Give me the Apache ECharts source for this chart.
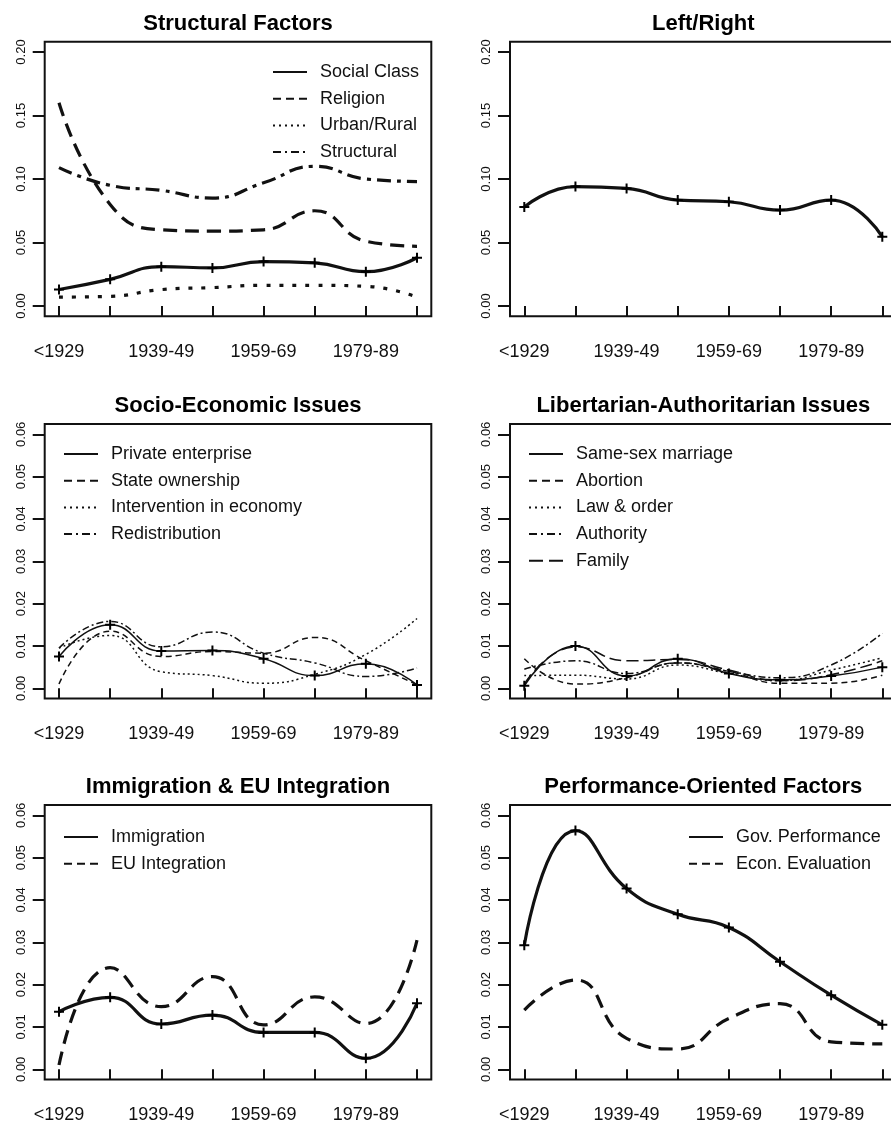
<!DOCTYPE html>
<html><head><meta charset="utf-8">
<script src="https://cdn.jsdelivr.net/npm/echarts@6/dist/echarts.min.js"></script>
<style>html,body{margin:0;padding:0;overflow:hidden;background:#fff}#c{width:891px;height:1124px}</style>
</head><body><div id="c"></div><script>
// ---------- DATA ----------
const categories = ['<1929','1929-39','1939-49','1949-59','1959-69','1969-79','1979-89','>1989'];
const yTicksWide = [0, 0.05, 0.10, 0.15, 0.20];
const yTicksNarrow = [0, 0.01, 0.02, 0.03, 0.04, 0.05, 0.06];

// Structural Factors
const socialClass = [0.013, 0.021, 0.031, 0.030, 0.035, 0.034, 0.027, 0.038];
const religion    = [0.160, 0.080, 0.060, 0.059, 0.060, 0.075, 0.051, 0.047];
const urbanRural  = [0.007, 0.0076, 0.0129, 0.0145, 0.0163, 0.0163, 0.0155, 0.007];
const structural  = [0.109, 0.095, 0.091, 0.085, 0.097, 0.110, 0.100, 0.098];
// Left/Right
const leftRight   = [0.078, 0.094, 0.0926, 0.0834, 0.0821, 0.0755, 0.0834, 0.0545];
// Socio-Economic Issues
const privateEnterprise = [0.0075, 0.0150, 0.0088, 0.0089, 0.0070, 0.0030, 0.0058, 0.0008];
const stateOwnership    = [0.0010, 0.0135, 0.0075, 0.0087, 0.0083, 0.0120, 0.0065, 0.0008];
const intervention      = [0.0095, 0.0125, 0.0039, 0.0030, 0.0012, 0.0033, 0.0080, 0.0165];
const redistribution    = [0.0095, 0.0158, 0.0098, 0.0133, 0.0083, 0.0060, 0.0028, 0.0048];
// Libertarian-Authoritarian Issues
const sameSexMarriage = [0.0006, 0.0100, 0.0029, 0.0070, 0.0035, 0.0020, 0.0029, 0.0050];
const abortion        = [0.0070, 0.0010, 0.0025, 0.0060, 0.0040, 0.0012, 0.0012, 0.0031];
const lawOrder        = [0.0030, 0.0031, 0.0022, 0.0055, 0.0035, 0.0018, 0.0043, 0.0072];
const authority       = [0.0045, 0.0065, 0.0035, 0.0060, 0.0040, 0.0025, 0.0055, 0.0130];
const family          = [0.0010, 0.0098, 0.0065, 0.0068, 0.0043, 0.0018, 0.0032, 0.0065];
// Immigration & EU Integration
const immigration   = [0.0136, 0.0170, 0.0107, 0.0128, 0.0087, 0.0087, 0.0026, 0.0156];
const euIntegration = [0.0010, 0.0240, 0.0148, 0.0219, 0.0105, 0.0171, 0.0108, 0.0305];
// Performance-Oriented Factors
const govPerformance = [0.0293, 0.0564, 0.0427, 0.0366, 0.0335, 0.0254, 0.0175, 0.0105];
const econEvaluation = [0.0140, 0.0211, 0.0073, 0.0048, 0.0120, 0.0155, 0.0065, 0.0060];

// ---------- LAYOUT / STYLE ----------
const FONT = 'Liberation Sans, Arial, sans-serif';
const INK = '#111';
const PLUS = 'path://M4,0H6V4H10V6H6V10H4V6H0V4H4Z';
const COLS = [{x0: 59, x7: 417}, {x0: 524.3, x7: 882.3}];
const ROWS = [{y0: 306}, {y0: 688.3}, {y0: 1069.3}];
const PH = 254, PADX = 14.3, PADY = 10.2;
const DASH = {
  thick:  {solid: 'solid', dashed: [14, 8], dotted: [4, 9], dotdash: [14, 6, 4, 6], longdash: [20, 8]},
  thin:   {solid: 'solid', dashed: [6, 4], dotted: [2, 3], dotdash: [7, 3, 2, 3], longdash: [12, 5]},
  legend: {solid: 'solid', dashed: [8, 5], dotted: [2, 4], dotdash: [8, 4, 2, 4], longdash: [14, 6]}
};

const panels = [
  {title: 'Structural Factors', col: 0, row: 0, ticks: yTicksWide, thick: true,
   legend: {left: 272, top: 63},
   series: [['Social Class', socialClass, 'solid'], ['Religion', religion, 'dashed'],
            ['Urban/Rural', urbanRural, 'dotted'], ['Structural', structural, 'dotdash']]},
  {title: 'Left/Right', col: 1, row: 0, ticks: yTicksWide, thick: true, legend: null,
   series: [['Left/Right', leftRight, 'solid']]},
  {title: 'Socio-Economic Issues', col: 0, row: 1, ticks: yTicksNarrow, thick: false,
   legend: {left: 63, top: 445},
   series: [['Private enterprise', privateEnterprise, 'solid'], ['State ownership', stateOwnership, 'dashed'],
            ['Intervention in economy', intervention, 'dotted'], ['Redistribution', redistribution, 'dotdash']]},
  {title: 'Libertarian-Authoritarian Issues', col: 1, row: 1, ticks: yTicksNarrow, thick: false,
   legend: {left: 528, top: 445},
   series: [['Same-sex marriage', sameSexMarriage, 'solid'], ['Abortion', abortion, 'dashed'],
            ['Law & order', lawOrder, 'dotted'], ['Authority', authority, 'dotdash'], ['Family', family, 'longdash']]},
  {title: 'Immigration & EU Integration', col: 0, row: 2, ticks: yTicksNarrow, thick: true,
   legend: {left: 63, top: 828},
   series: [['Immigration', immigration, 'solid'], ['EU Integration', euIntegration, 'dashed']]},
  {title: 'Performance-Oriented Factors', col: 1, row: 2, ticks: yTicksNarrow, thick: true,
   legend: {left: 688, top: 828},
   series: [['Gov. Performance', govPerformance, 'solid'], ['Econ. Evaluation', econEvaluation, 'dashed']]}
];

const option = {animation: false, title: [], grid: [], xAxis: [], yAxis: [], series: [], legend: []};

panels.forEach((p, k) => {
  const c = COLS[p.col], r = ROWS[p.row];
  const boxL = c.x0 - PADX, boxR = c.x7 + PADX;
  const boxT = r.y0 - PH - PADY, boxB = r.y0 + PADY;
  const fg = option.grid.length;
  // frame box
  option.grid.push({left: boxL, top: boxT, width: boxR - boxL, height: boxB - boxT,
    show: true, borderColor: INK, borderWidth: 2, backgroundColor: 'transparent', outerBoundsMode: 'none'});
  option.xAxis.push({gridIndex: fg, type: 'value', show: false, min: 0, max: 1});
  option.yAxis.push({gridIndex: fg, type: 'value', show: false, min: 0, max: 1});
  // data grid
  const dg = option.grid.length;
  option.grid.push({left: c.x0, top: r.y0 - PH, width: c.x7 - c.x0, height: PH, show: false, outerBoundsMode: 'none'});
  option.xAxis.push({gridIndex: dg, type: 'category', data: categories, boundaryGap: false,
    position: 'bottom', offset: 12,
    axisLine: {show: false},
    axisTick: {show: true, interval: 0, length: 10, inside: false, lineStyle: {color: INK, width: 2}},
    axisLabel: {interval: 0, margin: 25, fontSize: 18, fontFamily: FONT, color: INK,
      formatter: (v, i) => (i % 2 === 0 && i < categories.length - 1) ? v : ''},
    splitLine: {show: false}});
  const tk = p.ticks;
  option.yAxis.push({gridIndex: dg, type: 'value', min: tk[0], max: tk[tk.length - 1],
    interval: tk[1] - tk[0], position: 'left', offset: PADX,
    axisLine: {show: false},
    axisTick: {show: true, length: 12, lineStyle: {color: INK, width: 2}},
    axisLabel: {rotate: 90, margin: 17, fontSize: 13, fontFamily: FONT, color: INK,
      formatter: v => v.toFixed(2)},
    splitLine: {show: false}});
  option.title.push({text: p.title, left: (boxL + boxR) / 2, top: boxT - 29, textAlign: 'center', padding: 0,
    textStyle: {fontFamily: FONT, fontWeight: 'bold', fontSize: 22, color: '#000'}});
  const dashSet = p.thick ? DASH.thick : DASH.thin;
  const lw = p.thick ? 3.2 : 1.5;
  p.series.forEach(([name, vals, kind]) => {
    option.series.push({name, type: 'line', xAxisIndex: dg, yAxisIndex: dg, data: vals,
      smooth: 0.5, clip: false,
      symbol: kind === 'solid' ? PLUS : 'none', symbolSize: 10, showSymbol: kind === 'solid',
      itemStyle: {color: '#000'},
      lineStyle: {color: INK, width: lw, type: dashSet[kind], cap: 'butt'},
      emphasis: {disabled: true}});
  });
  if (p.legend) {
    option.legend.push({orient: 'vertical', left: p.legend.left, top: p.legend.top, padding: 0,
      itemWidth: 34, itemHeight: 14, itemGap: 8.7, selectedMode: false,
      itemStyle: {opacity: 0},
      textStyle: {fontFamily: FONT, fontSize: 18, color: INK, lineHeight: 18, padding: [0, 0, 0, 8]},
      data: p.series.map(([name, , kind]) => ({name,
        lineStyle: {width: 2, color: INK, type: DASH.legend[kind], cap: 'butt'},
        itemStyle: {opacity: 0}}))});
  }
});

const chart = echarts.init(document.getElementById('c'), null, {renderer: 'canvas'});
chart.setOption(option);
</script></body></html>
